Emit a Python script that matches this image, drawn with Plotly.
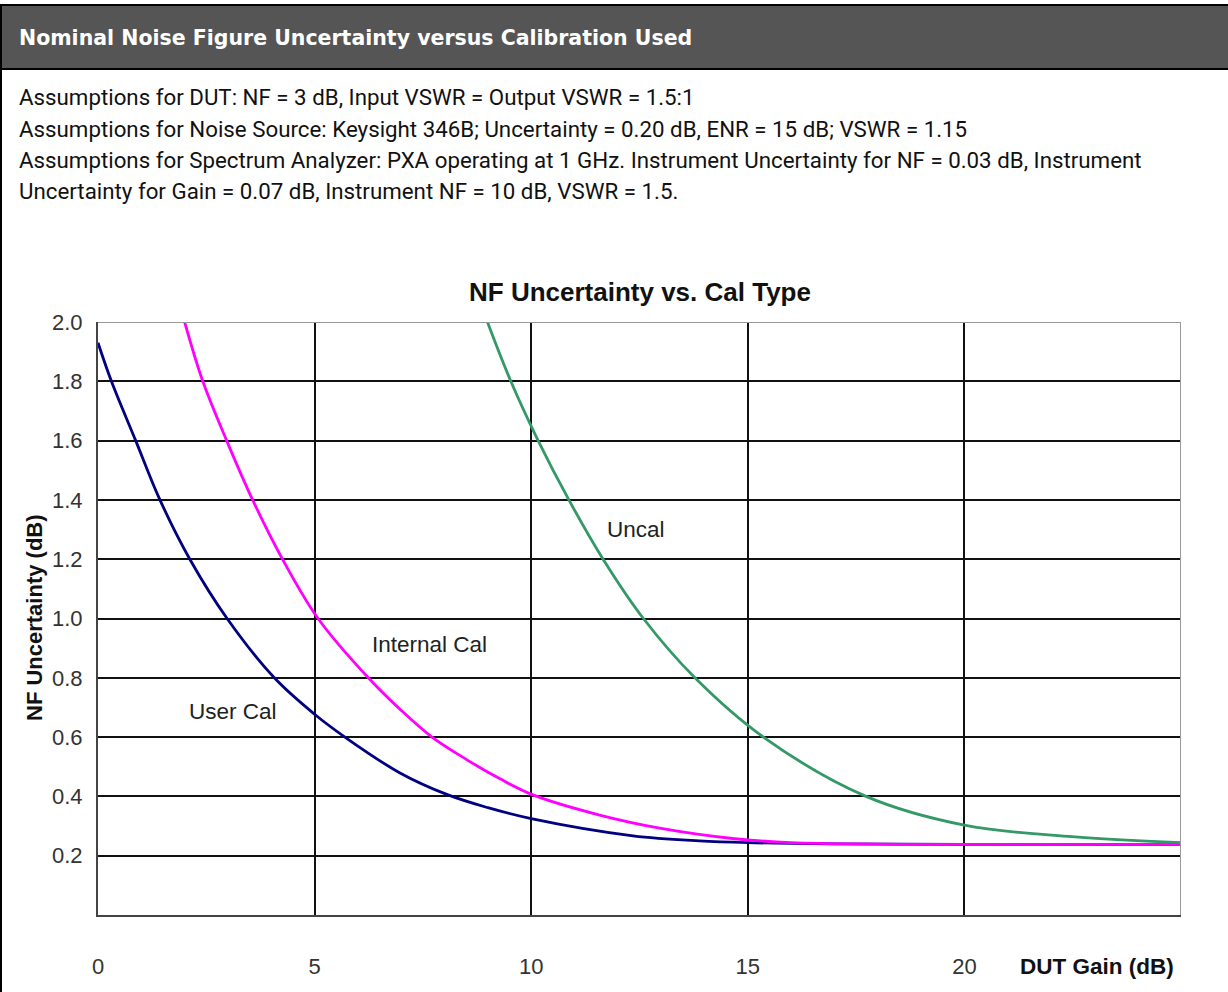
import plotly.graph_objects as go

# ---------------- data ----------------
gain_ticks = [0, 5, 10, 15, 20]
unc_ticks = [0.2, 0.4, 0.6, 0.8, 1.0, 1.2, 1.4, 1.6, 1.8, 2.0]
unc_tick_labels = ["0.2", "0.4", "0.6", "0.8", "1.0", "1.2", "1.4", "1.6", "1.8", "2.0"]

user_x = [0.0, 0.31, 0.87, 1.43, 2.12, 2.98, 4.07, 5.0, 5.70, 6.96, 8.08, 9.0, 10.0, 12.35, 13.88, 15.0, 17.0, 20.0, 25.0]
user_y = [1.93, 1.80, 1.60, 1.40, 1.20, 1.00, 0.80, 0.677, 0.60, 0.48, 0.405, 0.362, 0.325, 0.267, 0.250, 0.244, 0.240, 0.238, 0.238]

internal_x = [2.0, 2.42, 2.97, 3.57, 4.26, 5.08, 6.24, 7.0, 7.71, 8.5, 9.27, 10.04, 11.58, 13.0, 14.65, 16.0, 18.0, 20.0, 25.0]
internal_y = [2.00, 1.80, 1.60, 1.40, 1.20, 1.00, 0.80, 0.69, 0.60, 0.525, 0.46, 0.405, 0.337, 0.292, 0.258, 0.244, 0.239, 0.238, 0.238]

uncal_x = [8.99, 9.53, 10.16, 10.87, 11.66, 12.59, 13.78, 15.36, 17.73, 20.0, 22.48, 25.0]
uncal_y = [2.00, 1.80, 1.60, 1.40, 1.20, 1.00, 0.80, 0.60, 0.40, 0.303, 0.264, 0.244]

series_names = ["User Cal", "Internal Cal", "Uncal"]
series_colors = ["#000080", "#FF00FF", "#339966"]

header_text = "Nominal Noise Figure Uncertainty versus Calibration Used"
body_lines = [
    "Assumptions for DUT: NF = 3 dB, Input VSWR = Output VSWR = 1.5:1",
    "Assumptions for Noise Source: Keysight 346B; Uncertainty = 0.20 dB, ENR = 15 dB; VSWR = 1.15",
    "Assumptions for Spectrum Analyzer: PXA operating at 1 GHz. Instrument Uncertainty for NF = 0.03 dB, Instrument",
    "Uncertainty for Gain = 0.07 dB, Instrument NF = 10 dB, VSWR = 1.5.",
]
chart_title = "NF Uncertainty vs. Cal Type"
x_title = "DUT Gain (dB)"
y_title = "NF Uncertainty (dB)"

# ---------------- layout helpers ----------------
W, H = 1228, 992
PL, PR, PT, PB = 98, 1181, 322, 915


def px(x):
    return (x - PL) / (PR - PL)


def py(y):
    return (PB - y) / (PB - PT)


CHART = "Liberation Sans, Arial, sans-serif"
BODY = "Roboto, Liberation Sans, sans-serif"
HEAD = "DejaVu Sans, sans-serif"

fig = go.Figure()
for xs, ys, name, col in zip([user_x, internal_x, uncal_x], [user_y, internal_y, uncal_y],
                             series_names, series_colors):
    fig.add_trace(go.Scatter(x=xs, y=ys, mode="lines", name=name,
                             line=dict(color=col, width=2.8, shape="spline", smoothing=1.0),
                             hoverinfo="skip"))

annotations = []
# header
annotations.append(dict(text="<b>" + header_text + "</b>", x=px(17), y=py(38), xref="paper", yref="paper",
                        xanchor="left", yanchor="middle", showarrow=False,
                        font=dict(family=HEAD, size=20.5, color="white")))
for i, line in enumerate(body_lines):
    annotations.append(dict(text=line, x=px(17), y=py(97 + 31.5 * i), xref="paper", yref="paper",
                            xanchor="left", yanchor="middle", showarrow=False,
                            font=dict(family=BODY, size=22.3, color="#111111")))
# axis titles
annotations.append(dict(text="<b>" + x_title + "</b>", x=px(1097), y=py(966), xref="paper", yref="paper",
                        xanchor="center", yanchor="middle", showarrow=False,
                        font=dict(family=CHART, size=22.5, color="#111111")))
annotations.append(dict(text="<b>" + y_title + "</b>", x=px(34), y=py(618), xref="paper", yref="paper",
                        xanchor="center", yanchor="middle", showarrow=False, textangle=-90,
                        font=dict(family=CHART, size=22, color="#111111")))
# curve labels (data coordinates)
label_pos = {"Uncal": (12.42, 1.30), "Internal Cal": (7.66, 0.914), "User Cal": (3.12, 0.685)}
for name in series_names:
    lx, ly = label_pos[name]
    annotations.append(dict(text=name, x=lx, y=ly, xref="x", yref="y", showarrow=False,
                            xanchor="center", yanchor="middle",
                            font=dict(family=CHART, size=22.5, color="#222222")))

shapes = [
    # header band
    dict(type="rect", xref="paper", yref="paper", x0=px(0), x1=px(W + 5), y0=py(69), y1=py(5),
         fillcolor="#555555", line=dict(color="#000000", width=2), layer="above"),
    # left page border
    dict(type="line", xref="paper", yref="paper", x0=px(1), x1=px(1), y0=py(5), y1=py(H + 5),
         line=dict(color="#000000", width=2), layer="above"),
    # top and right plot border (gray)
    dict(type="line", xref="x", yref="y", x0=0, x1=25, y0=2, y1=2,
         line=dict(color="#999999", width=2), layer="above"),
    dict(type="line", xref="x", yref="y", x0=25, x1=25, y0=0, y1=2,
         line=dict(color="#999999", width=2), layer="above"),
]

fig.update_layout(
    width=W, height=H,
    margin=dict(l=PL, r=W - PR, t=PT, b=H - PB, pad=0, autoexpand=False),
    paper_bgcolor="white", plot_bgcolor="white",
    showlegend=False,
    title=dict(text="<b>" + chart_title + "</b>", x=640 / W, xanchor="center",
               y=1 - 292 / H, yanchor="middle", xref="container", yref="container",
               font=dict(family=CHART, size=26, color="#111111")),
    annotations=annotations,
    shapes=shapes,
    xaxis=dict(range=[0, 25], tickvals=gain_ticks, ticktext=[str(t) for t in gain_ticks],
               showgrid=True, gridcolor="#111111", gridwidth=2, zeroline=False,
               showline=True, linecolor="#444444", linewidth=2, ticks="",
               ticklabelstandoff=31, automargin=False,
               tickfont=dict(family=CHART, size=22, color="#333333"), fixedrange=True),
    yaxis=dict(range=[0, 2], tickvals=unc_ticks, ticktext=unc_tick_labels,
               showgrid=True, gridcolor="#111111", gridwidth=2, zeroline=False,
               showline=True, linecolor="#444444", linewidth=2, ticks="",
               ticklabelstandoff=9, automargin=False,
               tickfont=dict(family=CHART, size=22, color="#333333"), fixedrange=True),
)

fig.write_html("out.html", config={"displayModeBar": False},
               post_script="document.body.style.margin='0px';document.body.style.overflow='hidden';")
